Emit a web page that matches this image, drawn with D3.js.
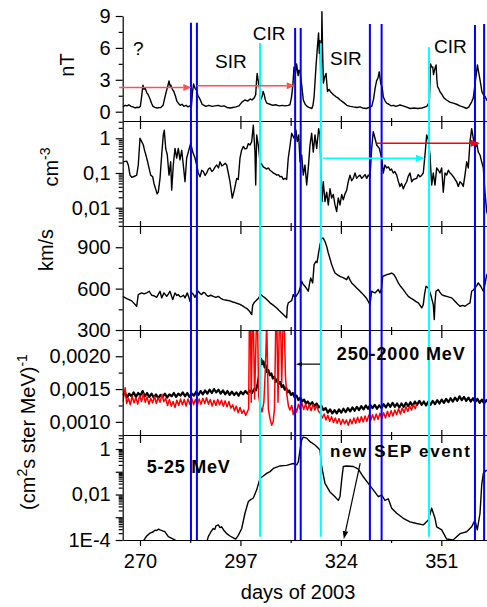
<!DOCTYPE html>
<html>
<head>
<meta charset="utf-8">
<script src="https://cdn.jsdelivr.net/npm/d3@7"></script>
<style>
  body { margin: 0; background: #fff; }
  text { font-family: "Liberation Sans", Arial, sans-serif; fill: #000; }
</style>
</head>
<body>
<svg id="chart" width="487" height="607"></svg>
<script>
// ---- data: [day of 2003, value] ----
var magField = [[265.35,0.45],[266.0,0.6],[266.5,0.55],[267.0,0.65],[267.6,0.5],[268.1,0.45],[268.7,0.35],[269.2,0.42],[269.7,0.38],[270.1,0.5],[270.5,1.6],[270.8,2.5],[271.1,2.1],[271.4,2.2],[271.8,1.8],[272.2,1.6],[272.7,1.2],[273.1,0.8],[273.5,0.5],[274.0,0.4],[274.6,0.35],[275.1,0.38],[275.6,0.4],[276.2,0.6],[276.6,1.2],[277.0,1.8],[277.4,2.3],[277.8,2.9],[278.1,2.4],[278.3,2.5],[278.7,2.1],[279.1,1.9],[279.5,1.5],[279.9,1.0],[280.3,0.8],[280.8,0.6],[281.3,0.7],[281.8,0.5],[282.4,0.6],[282.9,0.45],[283.4,0.55],[283.8,0.4],[284.1,1.8],[284.4,2.6],[284.8,2.2],[285.2,2.0],[285.6,1.5],[286.1,1.2],[286.7,0.7],[287.2,0.6],[287.7,0.5],[288.5,0.6],[289.4,0.5],[290.2,0.55],[291.0,0.6],[291.8,0.5],[292.6,0.55],[293.4,0.4],[294.2,0.35],[295.0,0.4],[295.8,0.45],[296.6,0.55],[297.4,0.9],[298.2,1.1],[299.0,1.0],[299.6,1.2],[300.1,1.1],[300.7,1.3],[301.1,1.6],[301.3,2.8],[301.5,3.6],[301.9,2.6],[302.1,2.3],[302.4,1.1],[302.8,1.4],[303.1,1.9],[303.4,1.6],[303.7,1.1],[304.1,0.8],[304.9,0.7],[305.7,0.6],[306.6,0.65],[307.4,0.55],[308.2,0.6],[309.0,0.55],[309.8,0.6],[310.3,0.65],[310.7,1.3],[311.1,2.5],[311.4,4.2],[311.8,3.6],[312.1,4.5],[312.5,3.4],[312.7,3.9],[313.0,3.8],[313.3,3.0],[313.5,2.4],[313.9,1.1],[314.4,0.7],[314.9,0.5],[315.4,0.4],[316.2,0.3],[316.5,0.6],[316.8,1.4],[317.0,2.5],[317.3,4.2],[317.7,6.1],[318.0,7.4],[318.2,5.5],[318.4,6.7],[318.6,2.9],[318.8,5.0],[318.9,9.4],[319.1,5.5],[319.3,2.7],[319.6,3.2],[320.0,3.6],[320.4,1.9],[320.8,2.1],[321.4,1.8],[322.0,1.6],[322.7,1.4],[323.2,1.3],[323.8,1.1],[324.6,0.9],[325.6,0.6],[326.5,0.5],[327.3,0.45],[328.3,0.4],[329.1,0.45],[329.9,0.35],[330.9,0.3],[331.6,0.4],[332.3,0.5],[332.8,1.2],[333.2,2.2],[333.6,2.9],[334.0,3.2],[334.3,3.75],[334.7,2.7],[335.1,2.3],[335.4,1.4],[335.9,1.0],[336.3,0.8],[336.9,0.7],[337.5,0.55],[338.1,0.6],[338.8,0.5],[339.9,0.63],[340.7,0.55],[341.5,0.45],[342.6,0.3],[343.7,0.35],[344.7,0.3],[345.8,0.35],[347.1,0.5],[347.6,0.8],[347.8,1.1],[348.1,4.5],[348.4,4.2],[348.7,4.2],[348.9,3.5],[349.1,3.8],[349.4,4.2],[349.6,4.4],[349.8,3.0],[350.0,2.35],[350.4,2.1],[350.6,1.9],[351.2,1.6],[351.7,1.3],[352.4,1.1],[353.3,0.9],[354.2,0.8],[355.1,0.7],[356.0,0.55],[356.8,0.45],[357.8,0.3],[358.4,0.45],[359.2,0.95],[359.6,1.3],[360.1,2.7],[360.4,3.5],[360.7,4.4],[361.0,3.8],[361.2,3.4],[361.6,2.6],[361.9,1.9],[362.3,1.6],[362.8,1.4],[363.2,1.1],[363.55,1.0]];

var density = [[265.35,0.21],[266.43,0.22],[266.86,0.17],[267.31,0.087],[267.8,0.075],[268.2,0.078],[268.7,0.082],[269.11,0.087],[269.54,0.17],[270.0,1.0],[270.46,0.8],[270.89,0.64],[271.3,0.42],[271.8,0.27],[272.1,0.2],[272.42,0.14],[272.88,0.087],[273.41,0.078],[273.76,0.05],[274.3,0.032],[274.6,0.025],[274.92,0.028],[275.38,0.07],[275.83,0.33],[276.26,1.25],[276.53,1.7],[276.91,0.51],[277.34,0.33],[277.8,0.087],[278.25,0.21],[278.52,0.032],[278.95,0.17],[279.41,0.51],[279.87,0.27],[280.3,0.51],[280.75,0.24],[281.21,0.45],[281.64,0.17],[282.1,0.056],[282.55,0.27],[282.98,0.4],[283.63,0.72],[284.17,0.4],[284.78,0.27],[285.24,0.17],[285.67,0.1],[286.13,0.078],[286.6,0.12],[287.02,0.11],[287.5,0.085],[287.93,0.1],[288.4,0.13],[288.82,0.14],[289.3,0.11],[289.7,0.12],[290.2,0.15],[290.62,0.17],[291.1,0.14],[291.5,0.21],[292.0,0.16],[292.39,0.17],[292.9,0.19],[293.3,0.17],[293.74,0.1],[294.19,0.056],[294.81,0.019],[295.35,0.032],[295.99,0.07],[296.42,0.065],[296.88,0.27],[297.3,0.45],[297.77,0.58],[298.2,0.5],[298.68,0.51],[299.1,0.7],[299.57,0.64],[300.03,0.8],[300.46,2.4],[300.91,0.4],[301.1,0.045],[301.37,1.25],[301.8,0.64],[302.26,0.21],[302.7,0.18],[303.14,0.15],[303.6,0.14],[304.06,0.13],[304.5,0.14],[304.95,0.12],[305.4,0.11],[305.83,0.1],[306.3,0.095],[306.75,0.087],[307.2,0.09],[307.63,0.078],[308.1,0.08],[308.52,0.065],[309.0,0.07],[309.43,0.065],[309.86,0.27],[310.32,0.6],[310.78,1.4],[311.4,1.0],[311.93,1.7],[312.28,0.8],[312.66,1.25],[313.01,0.21],[313.47,0.33],[313.9,0.087],[314.35,0.17],[314.81,0.045],[315.24,0.14],[315.7,0.64],[316.15,1.4],[316.58,0.4],[317.04,1.25],[317.5,0.51],[318.03,1.9],[318.38,1.25],[318.65,0.1],[318.92,0.015],[319.27,0.056],[319.73,0.015],[320.18,0.028],[320.62,0.012],[321.07,0.035],[321.53,0.019],[321.96,0.024],[322.42,0.012],[322.87,0.0077],[323.3,0.019],[323.76,0.012],[324.22,0.024],[324.65,0.017],[325.1,0.025],[325.56,0.032],[325.99,0.056],[326.45,0.087],[326.9,0.06],[327.34,0.07],[327.79,0.1],[328.25,0.07],[328.7,0.08],[329.14,0.087],[329.6,0.07],[330.02,0.078],[330.5,0.09],[330.94,0.07],[331.37,0.087],[331.83,0.078],[332.28,0.51],[332.71,1.55],[333.17,1.0],[333.63,0.64],[334.33,0.51],[334.97,0.27],[335.4,0.1],[335.86,0.17],[336.31,0.14],[336.8,0.15],[337.2,0.12],[337.6,0.13],[338.09,0.1],[338.5,0.11],[339.0,0.087],[339.4,0.06],[339.89,0.041],[340.3,0.05],[340.78,0.035],[341.2,0.045],[341.69,0.056],[342.1,0.08],[342.58,0.1],[343.04,0.056],[343.47,0.065],[344.38,0.07],[344.8,0.09],[345.27,0.078],[345.7,0.085],[346.15,0.1],[346.61,0.33],[347.07,1.25],[347.5,0.92],[347.95,0.33],[348.41,0.045],[348.84,0.1],[349.3,0.045],[349.76,0.14],[350.2,0.12],[350.64,0.1],[351.1,0.14],[351.53,0.028],[351.99,0.1],[352.44,0.087],[352.9,0.12],[353.33,0.1],[353.8,0.09],[354.22,0.078],[354.7,0.065],[355.13,0.056],[355.56,0.041],[356.02,0.056],[356.47,0.05],[356.9,0.041],[357.36,0.087],[357.82,0.21],[358.25,0.14],[358.71,0.8],[359.16,1.9],[359.59,1.0],[360.05,0.51],[360.51,0.72],[360.94,0.4],[361.4,0.33],[361.86,0.21],[362.29,0.14],[362.74,0.028],[363.2,0.0077],[363.55,0.006]];

var speed = [[265.35,544],[266.43,528],[267.77,511],[269.11,472],[269.54,557],[270.46,569],[271.1,562],[271.8,569],[272.5,581],[273.14,552],[273.8,548],[274.48,537],[275.38,581],[275.83,533],[276.45,569],[277.17,544],[277.6,560],[278.06,581],[278.79,520],[279.41,569],[279.9,550],[280.3,557],[280.8,540],[281.21,544],[281.7,552],[282.1,533],[282.72,569],[283.1,540],[283.44,508],[283.9,569],[284.3,560],[284.78,537],[285.2,560],[285.67,581],[286.1,566],[286.58,557],[287.0,572],[287.47,569],[287.9,552],[288.36,544],[289.0,552],[289.7,544],[290.4,536],[291.05,544],[291.7,530],[292.39,520],[293.3,516],[294.19,511],[294.9,503],[295.53,499],[296.2,492],[296.88,486],[297.6,475],[298.22,463],[298.7,456],[299.11,446],[299.6,430],[300.03,412],[300.3,480],[300.65,497],[301.19,513],[301.8,528],[302.45,557],[303.0,545],[303.6,533],[304.3,516],[304.95,497],[305.8,480],[306.75,460],[307.4,442],[308.1,424],[308.8,405],[309.43,388],[309.6,470],[309.86,497],[310.3,505],[310.78,513],[311.21,557],[311.6,540],[311.93,544],[312.55,569],[313.0,600],[313.47,653],[313.9,630],[314.35,617],[314.8,600],[315.24,581],[315.6,640],[315.9,677],[316.42,641],[316.8,774],[317.31,797],[317.6,790],[317.93,846],[318.38,918],[318.84,966],[319.27,966],[319.73,942],[320.2,905],[320.62,858],[321.1,815],[321.53,774],[322.0,740],[322.42,713],[323.1,700],[323.76,689],[324.6,680],[325.56,665],[325.99,689],[326.5,660],[326.9,641],[327.6,622],[328.25,605],[328.9,588],[329.59,569],[330.3,548],[330.94,528],[331.4,505],[331.83,484],[332.28,581],[332.7,575],[333.17,569],[334.06,593],[334.52,569],[334.9,600],[335.24,689],[335.8,695],[336.31,701],[337.0,706],[337.65,713],[338.27,701],[338.9,672],[339.43,641],[340.1,615],[340.78,593],[341.5,566],[342.12,544],[342.8,531],[343.47,520],[344.1,508],[344.82,497],[345.3,478],[345.73,460],[346.15,484],[346.5,560],[346.88,617],[347.5,605],[348.14,557],[348.5,520],[348.84,484],[349.11,376],[349.3,500],[349.57,581],[350.19,593],[350.6,575],[351.1,557],[351.8,548],[352.44,544],[353.1,538],[353.79,533],[354.67,508],[355.3,490],[356.02,472],[356.7,478],[357.36,472],[358.0,485],[358.71,497],[359.16,581],[359.6,590],[360.05,605],[360.5,620],[360.94,641],[361.59,617],[362.29,581],[362.8,640],[363.2,701],[363.55,705]];

var gcrBlack = [[265.35,0.00140],[265.9,0.00146],[266.5,0.00137],[267.1,0.00143],[267.7,0.00139],[268.3,0.00145],[268.9,0.00138],[269.5,0.00144],[270.1,0.00140],[270.7,0.00147],[271.3,0.00139],[271.9,0.00144],[272.5,0.00138],[273.1,0.00143],[273.7,0.00137],[274.3,0.00142],[274.9,0.00136],[275.5,0.00141],[276.1,0.00138],[276.7,0.00143],[277.3,0.00137],[277.9,0.00142],[278.5,0.00139],[279.1,0.00144],[279.7,0.00138],[280.3,0.00143],[280.9,0.00140],[281.5,0.00145],[282.1,0.00139],[282.7,0.00144],[283.3,0.00138],[283.9,0.00143],[284.5,0.00140],[285.1,0.00146],[285.7,0.00141],[286.3,0.00147],[286.9,0.00142],[287.5,0.00148],[288.1,0.00143],[288.7,0.00149],[289.3,0.00144],[289.9,0.00150],[290.5,0.00145],[291.1,0.00149],[291.7,0.00143],[292.3,0.00148],[292.9,0.00142],[293.5,0.00147],[294.1,0.00141],[294.7,0.00146],[295.3,0.00141],[295.9,0.00145],[296.5,0.00140],[297.1,0.00146],[297.7,0.00142],[298.3,0.00147],[298.9,0.00143],[299.5,0.00148],[300.1,0.00144],[300.7,0.00150],[301.2,0.00148],[301.6,0.00158],[302.0,0.00170],[302.3,0.00185],[302.6,0.00196],[302.9,0.00188],[303.2,0.00192],[303.5,0.00183],[303.8,0.00186],[304.1,0.00176],[304.5,0.00179],[304.9,0.00171],[305.3,0.00174],[305.7,0.00166],[306.1,0.00169],[306.5,0.00161],[306.9,0.00165],[307.3,0.00158],[307.7,0.00161],[308.1,0.00153],[308.5,0.00156],[308.9,0.00149],[309.3,0.00152],[309.7,0.00145],[310.1,0.00148],[310.6,0.00141],[311.1,0.00144],[311.6,0.00137],[312.1,0.00140],[312.6,0.00133],[313.1,0.00137],[313.6,0.00131],[314.1,0.00134],[314.6,0.00128],[315.1,0.00131],[315.7,0.00126],[316.3,0.00130],[316.9,0.00124],[317.5,0.00128],[318.1,0.00122],[318.7,0.00125],[319.3,0.00118],[319.9,0.00121],[320.5,0.00114],[321.1,0.00119],[321.7,0.00113],[322.3,0.00118],[322.9,0.00113],[323.5,0.00119],[324.1,0.00114],[324.7,0.00120],[325.3,0.00115],[325.9,0.00121],[326.5,0.00116],[327.1,0.00122],[327.7,0.00117],[328.3,0.00123],[328.9,0.00118],[329.5,0.00124],[330.1,0.00119],[330.7,0.00125],[331.3,0.00120],[331.9,0.00126],[332.5,0.00121],[333.1,0.00126],[333.7,0.00120],[334.3,0.00125],[334.9,0.00121],[335.5,0.00127],[336.1,0.00122],[336.7,0.00128],[337.3,0.00123],[337.9,0.00129],[338.5,0.00123],[339.1,0.00128],[339.7,0.00122],[340.3,0.00128],[340.9,0.00123],[341.5,0.00129],[342.1,0.00124],[342.7,0.00130],[343.3,0.00124],[343.9,0.00131],[344.5,0.00126],[345.1,0.00132],[345.7,0.00126],[346.3,0.00131],[346.9,0.00125],[347.5,0.00131],[348.1,0.00126],[348.7,0.00132],[349.3,0.00127],[349.9,0.00133],[350.5,0.00128],[351.1,0.00134],[351.7,0.00129],[352.3,0.00135],[352.9,0.00130],[353.5,0.00136],[354.1,0.00131],[354.7,0.00137],[355.3,0.00132],[355.9,0.00139],[356.5,0.00133],[357.1,0.00138],[357.7,0.00132],[358.3,0.00137],[358.9,0.00131],[359.5,0.00136],[360.1,0.00130],[360.7,0.00135],[361.3,0.00129],[361.9,0.00134],[362.5,0.00128],[363.1,0.00133],[363.55,0.00130]];

var gcrRed = [[265.35,0.00131],[265.7,0.00140],[266.0,0.00152],[266.4,0.00128],[266.9,0.00136],[267.4,0.00126],[267.9,0.00139],[268.4,0.00129],[268.9,0.00137],[269.4,0.00127],[269.9,0.00140],[270.4,0.00131],[270.9,0.00143],[271.4,0.00130],[271.9,0.00138],[272.4,0.00127],[272.9,0.00136],[273.4,0.00129],[273.9,0.00139],[274.4,0.00128],[274.9,0.00137],[275.4,0.00130],[275.9,0.00142],[276.4,0.00131],[276.9,0.00136],[277.4,0.00125],[277.9,0.00134],[278.4,0.00124],[278.9,0.00131],[279.4,0.00122],[279.9,0.00133],[280.4,0.00125],[280.9,0.00135],[281.4,0.00126],[281.9,0.00134],[282.4,0.00124],[282.9,0.00135],[283.4,0.00127],[283.9,0.00136],[284.4,0.00126],[284.9,0.00134],[285.4,0.00125],[285.9,0.00135],[286.4,0.00127],[286.9,0.00136],[287.4,0.00128],[287.9,0.00137],[288.4,0.00127],[288.9,0.00134],[289.4,0.00124],[289.9,0.00133],[290.4,0.00125],[290.9,0.00134],[291.4,0.00126],[291.9,0.00133],[292.4,0.00124],[292.9,0.00132],[293.4,0.00123],[293.9,0.00131],[294.4,0.00121],[294.9,0.00126],[295.4,0.00117],[295.9,0.00124],[296.4,0.00114],[296.9,0.00122],[297.4,0.00113],[297.9,0.00118],[298.4,0.00110],[298.9,0.00116],[299.2,0.00120],[299.4,0.0025],[299.7,0.0025],[299.9,0.0013],[300.2,0.0025],[300.5,0.0025],[300.8,0.00135],[301.3,0.0025],[301.6,0.0025],[301.9,0.0014],[302.3,0.00125],[302.8,0.00115],[303.3,0.0013],[303.7,0.0018],[304.06,0.0025],[304.3,0.0018],[304.5,0.0012],[304.95,0.00105],[305.4,0.00095],[305.8,0.00100],[306.15,0.0012],[306.5,0.0025],[306.8,0.0025],[307.1,0.0013],[307.45,0.0025],[307.8,0.0025],[308.1,0.0016],[308.45,0.0025],[308.8,0.0025],[309.1,0.0017],[309.4,0.00145],[309.9,0.00124],[310.3,0.00118],[310.8,0.00125],[311.2,0.00111],[311.7,0.00122],[312.1,0.00115],[312.6,0.00127],[313.0,0.00120],[313.5,0.00129],[314.0,0.00119],[314.5,0.00127],[315.0,0.00118],[315.5,0.00126],[316.0,0.00117],[316.5,0.00127],[317.0,0.00118],[317.5,0.00125],[318.0,0.00116],[318.5,0.00113],[319.0,0.00106],[319.5,0.00112],[320.0,0.00103],[320.5,0.00110],[321.0,0.00101],[321.5,0.00108],[322.0,0.00099],[322.5,0.00106],[323.0,0.00098],[323.5,0.00105],[324.0,0.00096],[324.5,0.00104],[325.0,0.00097],[325.5,0.00103],[326.0,0.00095],[326.5,0.00104],[327.0,0.00097],[327.5,0.00106],[328.0,0.00098],[328.5,0.00107],[329.0,0.00099],[329.5,0.00108],[330.0,0.00100],[330.5,0.00109],[331.0,0.00101],[331.5,0.00110],[332.0,0.00102],[332.5,0.00111],[333.0,0.00103],[333.5,0.00112],[334.0,0.00104],[334.5,0.00113],[335.0,0.00105],[335.5,0.00114],[336.0,0.00106],[336.5,0.00116],[337.0,0.00108],[337.5,0.00117],[338.0,0.00109],[338.5,0.00118],[339.0,0.00111],[339.5,0.00120],[340.0,0.00112],[340.5,0.00121],[341.0,0.00114],[341.5,0.00123],[342.0,0.00116],[342.5,0.00124],[343.0,0.00118],[343.5,0.00126],[344.0,0.00120],[344.38,0.00127]];

var sepFlux = [[265.35,8e-5],[268.0,8.5e-5],[270.89,9e-5],[271.8,1.5e-4],[272.69,2.0e-4],[273.58,2.3e-4],[274.0,2.7e-4],[274.49,2.6e-4],[275.0,3.0e-4],[275.38,2.8e-4],[276.1,2.5e-4],[276.72,2.3e-4],[277.61,1.4e-4],[278.95,1.1e-4],[279.87,9e-5],[284.0,8e-5],[287.93,8e-5],[288.36,1.4e-4],[289.0,2.2e-4],[289.7,3.2e-4],[290.1,2.9e-4],[290.43,4.2e-4],[291.05,4.6e-4],[291.5,3.5e-4],[291.96,3.8e-4],[292.58,2.6e-4],[293.3,1.9e-4],[294.19,1.5e-4],[295.08,1.25e-4],[295.72,1.1e-4],[296.42,1.6e-4],[297.34,3.2e-4],[298.22,1.5e-3],[299.11,4.8e-3],[299.57,5.7e-3],[300.46,7e-3],[301.37,0.016],[302.26,0.051],[303.14,0.065],[304.06,0.085],[304.95,0.1],[305.83,0.14],[306.75,0.16],[307.63,0.18],[308.52,0.185],[309.43,0.19],[310.32,0.21],[311.21,0.23],[312.12,0.2],[312.55,0.27],[313.01,0.9],[313.47,2.5],[313.9,3.3],[314.81,3.0],[315.7,2.1],[317.04,1.5],[317.93,1.07],[318.38,0.9],[318.84,0.17],[319.73,0.031],[321.07,0.013],[322.42,8e-3],[323.3,5.5e-3],[323.76,8e-3],[324.22,0.044],[324.65,0.17],[325.56,0.18],[327.34,0.17],[328.7,0.13],[330.02,0.06],[331.37,0.031],[332.71,0.016],[334.06,8e-3],[334.97,9.5e-3],[335.86,5.5e-3],[336.74,6.5e-3],[337.66,2.5e-3],[339.0,1.5e-3],[340.78,9e-4],[342.58,6.3e-4],[344.38,5.3e-4],[346.15,4.6e-4],[347.5,7.5e-4],[348.41,2.5e-3],[349.3,9e-4],[349.76,3.8e-4],[351.1,2.8e-4],[352.44,1.1e-4],[354.14,1.0e-4],[356.02,1.9e-4],[357.82,2.3e-4],[359.16,3.8e-4],[360.05,7.5e-4],[360.67,2.8e-4],[361.4,1.5e-3],[361.86,0.026],[362.29,0.085],[363.2,0.12]];

// ---- ticks, labels, event lines ----
var xMajor = [270, 297, 324, 351];
var xMinor = [283.5, 310.5, 337.5];
var bTicks = [0, 3, 6, 9];
var bMinor = [1.5, 4.5, 7.5];
var nTicks = [0.01, 0.1, 1];
var nLabels = ["0,01", "0,1", "1"];
var vTicks = [300, 600, 900];
var vMinor = [450, 750];
var gTicks = [0.0010, 0.0015, 0.0020];
var gLabels = ["0,0010", "0,0015", "0,0020"];
var gMinor = [0.00125, 0.00175, 0.00225];
var sTicks = [1e-4, 0.001, 0.01, 0.1, 1];
var sLabels = ["1E-4", "", "0,01", "", "1"];

var blueDays = [283.7, 285.3, 311.7, 313.2, 331.8, 334.95, 360.05, 362.5];
var blueTops = [8.37, 8.37, 7.87, 7.87, 8.25, 8.25, 8.16, 8.25];   // nT units
var cyanDays = [302.26, 318.62, 347.7];
var cyanTops = [6.46, 6.43, 6.06];

var regionLabels = [["?", 268.15, 5.33], ["SIR", 290.16, 4.08], ["CIR", 300.3, 6.75], ["SIR", 321.07, 4.39], ["CIR", 349.03, 5.52]];

// ---- layout ----
var svg = d3.select('#chart');
var left = 122.7, right = 488;
var x = d3.scaleLinear().domain([265.35, 363.55]).range([left, right]);
var yB = d3.scaleLinear().domain([-0.875, 9]).range([121, 16]);
var yN = d3.scaleLog().domain([0.00297, 3.15]).range([226, 121]);
var yV = d3.scaleLinear().domain([300, 1054]).range([330, 226]);
var yG = d3.scaleLinear().domain([0.0008, 0.0024]).range([435, 330]);
var yS = d3.scaleLog().domain([1e-4, 4.12]).range([540, 435]);

var defs = svg.append('defs');
function clip(id, y0, y1) {
    defs.append('clipPath').attr('id', id).append('rect')
        .attr('x', left).attr('y', y0).attr('width', right - left).attr('height', y1 - y0);
    return 'url(#' + id + ')';
}

function trace(data, yScale, color, width, clipUrl) {
    var line = d3.line().x(function (d) { return x(d[0]); }).y(function (d) { return yScale(d[1]); });
    svg.append('path').datum(data)
        .attr('d', line)
        .attr('fill', 'none')
        .attr('stroke', color)
        .attr('stroke-width', width)
        .attr('stroke-linejoin', 'round')
        .attr('clip-path', clipUrl);
}

trace(magField, yB, '#000', 1.4, clip('c1', 0, 121));
trace(density, yN, '#000', 1.4, clip('c2', 121, 226));
trace(speed, yV, '#000', 1.4, clip('c3', 226, 330));
var c4 = clip('c4', 330, 435);
trace(gcrBlack, yG, '#000', 2.2, c4);
trace(gcrRed, yG, '#ff0000', 1.5, c4);
trace(sepFlux, yS, '#000', 1.4, clip('c5', 435, 540));

// y axes
function yAxis(scale, major, labels, minor) {
    svg.append('g').attr('class', 'minor').attr('transform', 'translate(' + left + ',0)')
        .call(d3.axisLeft(scale).tickValues(minor).tickSize(4).tickSizeOuter(0).tickFormat(''));
    svg.append('g').attr('transform', 'translate(' + left + ',0)')
        .call(d3.axisLeft(scale).tickValues(major).tickSize(7).tickPadding(5).tickSizeOuter(0)
            .tickFormat(function (d, i) { return labels[i]; }));
}
function logMinor(scale, major) {
    return scale.ticks().filter(function (t) {
        return !major.some(function (m) { return Math.abs(m / t - 1) < 1e-6; });
    });
}
yAxis(yB, bTicks, bTicks.map(String), bMinor);
yAxis(yN, nTicks, nLabels, logMinor(yN, nTicks));
yAxis(yV, vTicks, vTicks.map(String), vMinor);
yAxis(yG, gTicks, gLabels, gMinor);
yAxis(yS, sTicks, sLabels, logMinor(yS, sTicks));

// x axes on every panel boundary (ticks cross the line)
[121, 226, 330, 435].forEach(function (yb) {
    [[xMajor, 8], [xMajor, -5], [xMinor, 5], [xMinor, -3]].forEach(function (t, k) {
        svg.append('g').attr('class', k ? 'minor' : null).attr('transform', 'translate(0,' + yb + ')')
            .call(d3.axisBottom(x).tickValues(t[0]).tickSize(t[1]).tickSizeOuter(0).tickFormat(''));
    });
});
svg.append('g').attr('class', 'minor').attr('transform', 'translate(0,540)')
    .call(d3.axisBottom(x).tickValues(xMinor).tickSize(3).tickSizeOuter(0).tickFormat(''));
svg.append('g').attr('transform', 'translate(0,540)')
    .call(d3.axisBottom(x).tickValues(xMajor).tickSize(6).tickPadding(8).tickSizeOuter(0));

svg.selectAll('.minor .domain').remove();
svg.selectAll('.domain, .tick line').attr('stroke', '#000').attr('stroke-width', 1.2);
svg.selectAll('.tick text').style('font-size', '20px').attr('fill', '#000');

// event lines
var lines = svg.append('g');
blueDays.forEach(function (d, i) {
    lines.append('line').attr('x1', x(d)).attr('x2', x(d))
        .attr('y1', yB(blueTops[i])).attr('y2', yS(1e-4))
        .attr('stroke', '#0000ff').attr('stroke-width', 2);
});
cyanDays.forEach(function (d, i) {
    lines.append('line').attr('x1', x(d)).attr('x2', x(d))
        .attr('y1', yB(cyanTops[i])).attr('y2', yS(1.4e-4))
        .attr('stroke', '#00ffff').attr('stroke-width', 2);
});

// arrows
function arrow(p1, p2, color, len, half, w) {
    var dx = p2[0] - p1[0], dy = p2[1] - p1[1], L = Math.sqrt(dx * dx + dy * dy);
    var ux = dx / L, uy = dy / L;
    var bx = p2[0] - ux * len, by = p2[1] - uy * len;
    svg.append('line').attr('x1', p1[0]).attr('y1', p1[1]).attr('x2', bx).attr('y2', by)
        .attr('stroke', color).attr('stroke-width', w);
    svg.append('path')
        .attr('d', 'M' + p2[0] + ',' + p2[1] + 'L' + (bx - uy * half) + ',' + (by + ux * half) +
            'L' + (bx + uy * half) + ',' + (by - ux * half) + 'Z')
        .attr('fill', color);
}
arrow([x(264.4), yB(2.28)], [x(283.8), yB(2.28)], '#ff5050', 8, 3.5, 1.5);
arrow([x(285.3), yB(2.45)], [x(311.6), yB(2.45)], '#ff5050', 8, 3.5, 1.5);
arrow([x(319.2), yN(0.265)], [x(346.6), yN(0.265)], '#00ffff', 9, 3.5, 1.5);
arrow([x(333.6), yN(0.72)], [x(361.4), yN(0.72)], '#ff0000', 9, 3.5, 1.5);
arrow([x(318.4), yG(0.00188)], [x(311.9), yG(0.00188)], '#000', 6, 2.2, 1.2);
arrow([x(329.2), yS(0.24)], [x(324.8), yS(1.1e-4)], '#000', 8, 2.8, 1.2);

// annotations
regionLabels.forEach(function (r) {
    svg.append('text').attr('x', x(r[1])).attr('y', yB(r[2]))
        .style('font-size', '19px').text(r[0]);
});
svg.append('text').attr('x', x(322.9)).attr('y', yG(0.00195))
    .style('font-size', '18px').style('font-weight', 'bold')
    .attr('textLength', 128).attr('lengthAdjust', 'spacing').text('250-2000 MeV');
svg.append('text').attr('x', x(271.8)).attr('y', yS(0.091))
    .style('font-size', '18px').style('font-weight', 'bold')
    .attr('textLength', 83).attr('lengthAdjust', 'spacing').text('5-25 MeV');
svg.append('text').attr('x', x(321.07)).attr('y', yS(0.44))
    .style('font-size', '17px').style('font-weight', 'bold')
    .attr('textLength', 140).attr('lengthAdjust', 'spacing').text('new SEP event');

// axis titles
function yTitle(tx, ty, parts) {
    var t = svg.append('text').attr('transform', 'translate(' + tx + ',' + ty + ') rotate(-90)')
        .attr('text-anchor', 'middle').style('font-size', '20px');
    parts.forEach(function (p) {
        var s = t.append('tspan').text(p[0]);
        if (p[1]) s.attr('dy', p[1]);
        if (p[2]) s.style('font-size', p[2]);
    });
}
yTitle(74, 65, [['nT']]);
yTitle(58, 167, [['cm'], ['-3', -8, '14px']]);
yTitle(53, 250, [['km/s']]);
yTitle(35, 432, [['(cm'], ['2', -8, '14px'], ['s ster MeV)', 8], ['-1', -8, '14px']]);

svg.append('text').attr('x', x(312.5)).attr('y', 599)
    .attr('text-anchor', 'middle').style('font-size', '20px').text('days of 2003');
</script>
</body>
</html>
